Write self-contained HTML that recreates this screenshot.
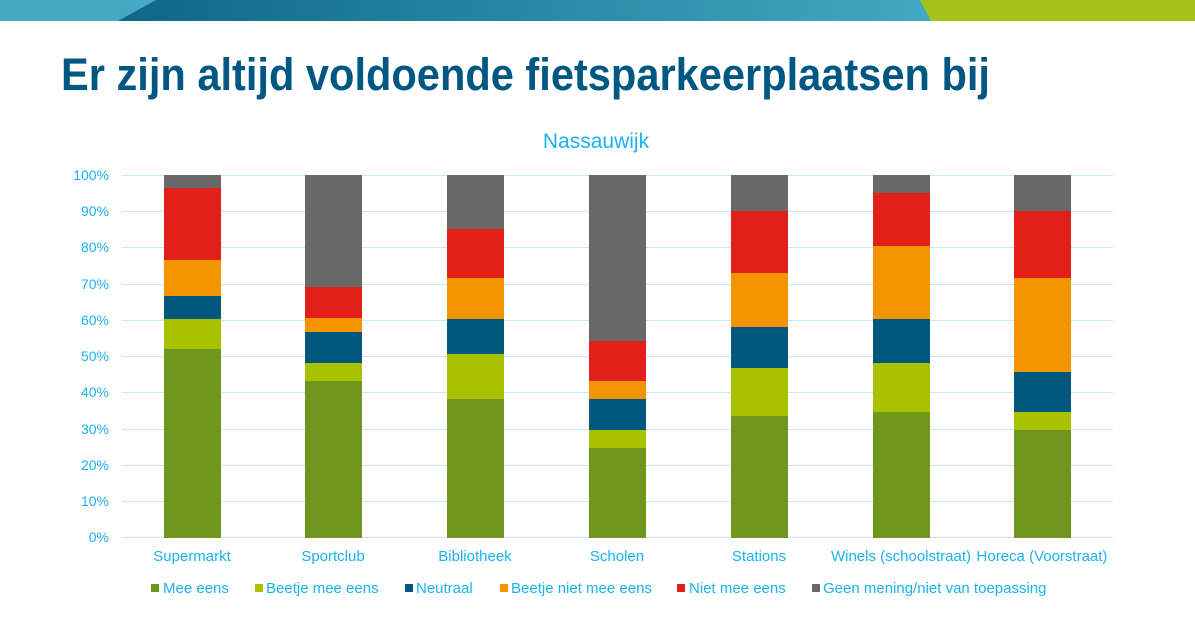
<!DOCTYPE html>
<html><head><meta charset="utf-8"><style>
html,body{margin:0;padding:0;background:#fff;}
svg{display:block;font-family:"Liberation Sans",Arial,sans-serif;}
</style></head><body>
<svg width="1195" height="626" viewBox="0 0 1195 626" xmlns="http://www.w3.org/2000/svg">
<defs>
<linearGradient id="g" x1="0" x2="1" y1="0" y2="0">
<stop offset="0" stop-color="#0f6688"/><stop offset="1" stop-color="#42a9c2"/>
</linearGradient>
</defs>
<rect x="0" y="0" width="1195" height="21" fill="#44a9c3"/>
<polygon points="156,0 922,0 931,21 118,21" fill="url(#g)"/>
<polygon points="920,0 1195,0 1195,21 931,21" fill="#a5c01a"/>
<text x="61" y="90" font-size="45" font-weight="bold" fill="#005782" textLength="929" lengthAdjust="spacingAndGlyphs">Er zijn altijd voldoende fietsparkeerplaatsen bij</text>
<text x="596" y="148" font-size="21" fill="#1ab2f0" text-anchor="middle">Nassauwijk</text>
<g stroke="#c4e9f8" stroke-width="1">
<line x1="122" x2="1113" y1="175.5" y2="175.5"/><line x1="122" x2="1113" y1="211.5" y2="211.5"/>
<line x1="122" x2="1113" y1="247.5" y2="247.5"/><line x1="122" x2="1113" y1="284.5" y2="284.5"/>
<line x1="122" x2="1113" y1="320.5" y2="320.5"/><line x1="122" x2="1113" y1="356.5" y2="356.5"/>
<line x1="122" x2="1113" y1="392.5" y2="392.5"/><line x1="122" x2="1113" y1="429.5" y2="429.5"/>
<line x1="122" x2="1113" y1="465.5" y2="465.5"/><line x1="122" x2="1113" y1="501.5" y2="501.5"/>
<line x1="122" x2="1113" y1="537.5" y2="537.5"/>
</g>
<g font-size="14" fill="#1ab2f0" text-anchor="end">
<text x="109" y="180">100%</text><text x="109" y="216">90%</text><text x="109" y="252">80%</text>
<text x="109" y="289">70%</text><text x="109" y="325">60%</text><text x="109" y="361">50%</text>
<text x="109" y="397">40%</text><text x="109" y="434">30%</text><text x="109" y="470">20%</text>
<text x="109" y="506">10%</text><text x="109" y="542">0%</text>
</g>
<g id="bars">
<rect x="164" y="175" width="57" height="13" fill="#686868"/>
<rect x="164" y="188" width="57" height="72" fill="#e31f1a"/>
<rect x="164" y="260" width="57" height="36" fill="#f39500"/>
<rect x="164" y="296" width="57" height="23" fill="#00587e"/>
<rect x="164" y="319" width="57" height="30" fill="#a8c200"/>
<rect x="164" y="349" width="57" height="189" fill="#71961d"/>
<rect x="305" y="175" width="57" height="112" fill="#686868"/>
<rect x="305" y="287" width="57" height="31" fill="#e31f1a"/>
<rect x="305" y="318" width="57" height="14" fill="#f39500"/>
<rect x="305" y="332" width="57" height="31" fill="#00587e"/>
<rect x="305" y="363" width="57" height="18" fill="#a8c200"/>
<rect x="305" y="381" width="57" height="157" fill="#71961d"/>
<rect x="447" y="175" width="57" height="54" fill="#686868"/>
<rect x="447" y="229" width="57" height="49" fill="#e31f1a"/>
<rect x="447" y="278" width="57" height="41" fill="#f39500"/>
<rect x="447" y="319" width="57" height="35" fill="#00587e"/>
<rect x="447" y="354" width="57" height="45" fill="#a8c200"/>
<rect x="447" y="399" width="57" height="139" fill="#71961d"/>
<rect x="589" y="175" width="57" height="166" fill="#686868"/>
<rect x="589" y="341" width="57" height="40" fill="#e31f1a"/>
<rect x="589" y="381" width="57" height="18" fill="#f39500"/>
<rect x="589" y="399" width="57" height="31" fill="#00587e"/>
<rect x="589" y="430" width="57" height="18" fill="#a8c200"/>
<rect x="589" y="448" width="57" height="90" fill="#71961d"/>
<rect x="731" y="175" width="57" height="36" fill="#686868"/>
<rect x="731" y="211" width="57" height="62" fill="#e31f1a"/>
<rect x="731" y="273" width="57" height="54" fill="#f39500"/>
<rect x="731" y="327" width="57" height="41" fill="#00587e"/>
<rect x="731" y="368" width="57" height="48" fill="#a8c200"/>
<rect x="731" y="416" width="57" height="122" fill="#71961d"/>
<rect x="873" y="175" width="57" height="18" fill="#686868"/>
<rect x="873" y="193" width="57" height="53" fill="#e31f1a"/>
<rect x="873" y="246" width="57" height="73" fill="#f39500"/>
<rect x="873" y="319" width="57" height="44" fill="#00587e"/>
<rect x="873" y="363" width="57" height="49" fill="#a8c200"/>
<rect x="873" y="412" width="57" height="126" fill="#71961d"/>
<rect x="1014" y="175" width="57" height="36" fill="#686868"/>
<rect x="1014" y="211" width="57" height="67" fill="#e31f1a"/>
<rect x="1014" y="278" width="57" height="94" fill="#f39500"/>
<rect x="1014" y="372" width="57" height="40" fill="#00587e"/>
<rect x="1014" y="412" width="57" height="18" fill="#a8c200"/>
<rect x="1014" y="430" width="57" height="108" fill="#71961d"/>
</g>
<g font-size="15" fill="#1ab2f0" text-anchor="middle">
<text x="192" y="561">Supermarkt</text><text x="333" y="561">Sportclub</text>
<text x="475" y="561">Bibliotheek</text><text x="617" y="561">Scholen</text>
<text x="759" y="561">Stations</text><text x="901" y="561">Winels (schoolstraat)</text>
<text x="1042" y="561">Horeca (Voorstraat)</text>
</g>
<g font-size="15" fill="#1ab2f0">
<rect x="151" y="584" width="8" height="8" fill="#71961d"/><text x="163" y="593">Mee eens</text>
<rect x="255" y="584" width="8" height="8" fill="#a8c200"/><text x="266" y="593">Beetje mee eens</text>
<rect x="405" y="584" width="8" height="8" fill="#00587e"/><text x="416" y="593">Neutraal</text>
<rect x="500" y="584" width="8" height="8" fill="#f39500"/><text x="511" y="593">Beetje niet mee eens</text>
<rect x="677" y="584" width="8" height="8" fill="#e31f1a"/><text x="689" y="593">Niet mee eens</text>
<rect x="812" y="584" width="8" height="8" fill="#686868"/><text x="823" y="593">Geen mening/niet van toepassing</text>
</g>
</svg>
</body></html>
